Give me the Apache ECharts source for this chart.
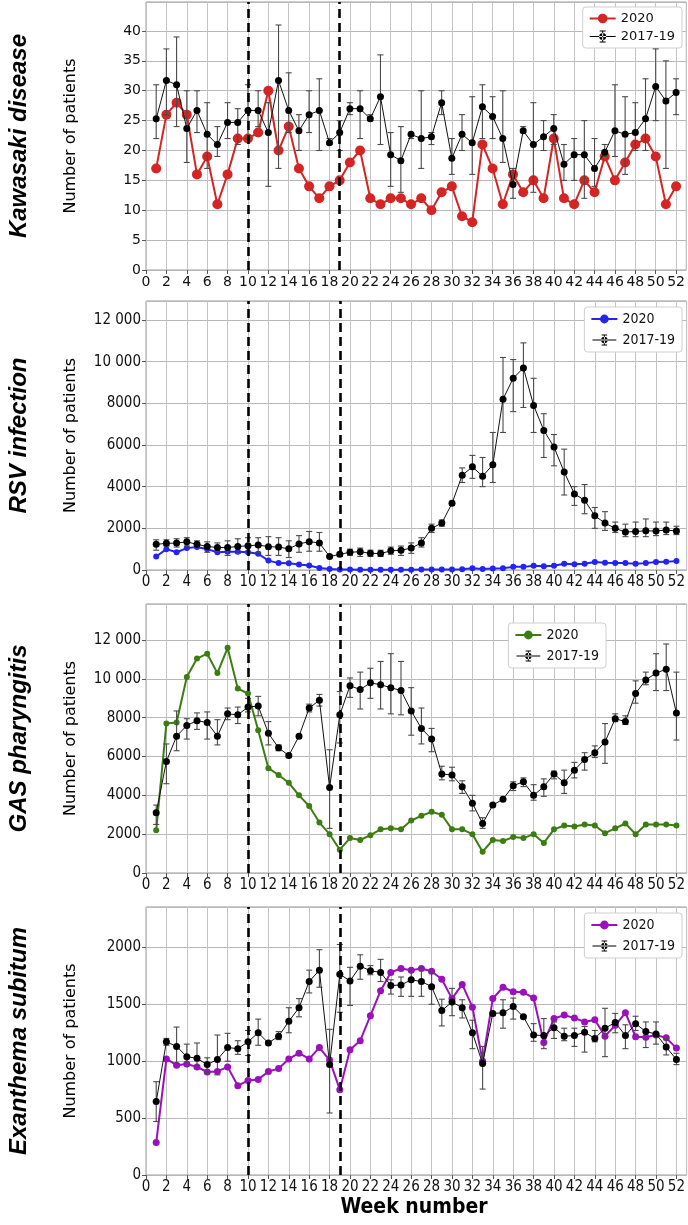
<!DOCTYPE html>
<html><head><meta charset="utf-8">
<script src="https://cdn.jsdelivr.net/npm/echarts@6/dist/echarts.min.js"></script>
<style>html,body{margin:0;padding:0;background:#fff}#c{width:688px;height:1225px}</style>
</head><body><div id="c"></div>
<script>
var weeks = [1,2,3,4,5,6,7,8,9,10,11,12,13,14,15,16,17,18,19,20,21,22,23,24,25,26,27,28,29,30,31,32,33,34,35,36,37,38,39,40,41,42,43,44,45,46,47,48,49,50,51,52];
var panelTitles = ['Kawasaki disease','RSV infection','GAS pharyngitis','Exanthema subitum'];
var seriesNames = ['2020','2017-19'];
var xTicks = [0,2,4,6,8,10,12,14,16,18,20,22,24,26,28,30,32,34,36,38,40,42,44,46,48,50,52];
var lockdownWeeks = [10,19];

// Kawasaki disease
var kd2020 = [17,26,28,26,16,19,11,16,22,22,23,30,20,24,17,14,12,14,15,18,20,12,11,12,12,11,12,10,13,14,9,8,21,17,11,16,13,15,12,22,12,11,15,13,19,15,18,21,22,19,11,14];
var kdMean = [25.3,31.7,31,23.7,26.7,22.7,21,24.7,24.7,26.7,26.7,23,31.7,26.7,23.3,26,26.7,21.3,23,27,27,25.3,29,19.3,18.3,22.7,22,22.3,28,18.7,22.7,21.3,27.3,25.7,22,14.3,23.3,21,22.3,23.7,17.7,19.3,19.3,17,19.7,23.3,22.7,23,25.3,30.7,28.3,29.7];
var kdLow = [22,26,24,18,23,17,19,22,21,22,24,14,17,23,20,23,20,21,20,26,22,25,21,14,13,22,17,21,26,16,20,16,22,22,18,12,23,13,20,21,15,15,12,14,19,19,16,20,20,25,17,26];
var kdHigh = [31,37,39,30,30,28,24,28,27,31,30,28,41,33,26,30,32,22,25,28,30,26,36,23,24,23,30,23,30,22,26,29,31,29,30,17,24,28,25,26,21,22,25,22,21,31,29,28,32,37,35,32];

// RSV infection
var rsv2020 = [650,1000,850,1050,1100,1000,850,880,870,850,780,450,330,320,260,220,100,50,20,20,10,10,10,10,10,10,20,20,20,20,40,80,50,70,80,150,150,200,180,200,300,280,300,380,350,330,330,300,330,380,390,430];
var rsvMean = [1230,1280,1290,1350,1230,1130,1080,1080,1130,1160,1200,1120,1100,1020,1250,1360,1300,650,750,850,880,800,790,920,950,1050,1300,2000,2250,3200,4550,4950,4500,5050,8200,9200,9700,7900,6700,5900,4700,3650,3350,2600,2250,2000,1820,1850,1880,1870,1920,1870];
var rsvLow = [950,1150,1100,1150,1100,850,900,700,800,850,850,700,700,600,850,900,900,600,650,700,650,650,650,750,700,800,1100,1800,2100,3100,4200,4400,4000,4200,6600,7600,7800,6600,5400,5000,3600,3100,2700,2000,1900,1800,1600,1600,1600,1650,1700,1700];
var rsvHigh = [1450,1450,1500,1550,1400,1350,1300,1400,1500,1550,1550,1600,1550,1400,1650,1850,1800,700,850,1000,1050,950,950,1100,1150,1300,1550,2200,2400,3300,4900,5500,5400,6600,10200,10100,10900,9200,7500,6500,5800,4000,4100,3000,2800,2300,2200,2300,2450,2300,2300,2100];

// GAS pharyngitis
var gas2020 = [2200,7700,7750,10100,11050,11300,10300,11600,9500,9250,7350,5400,5050,4650,4000,3450,2600,2000,1200,1800,1700,1950,2250,2300,2250,2700,2950,3150,3000,2250,2250,2000,1100,1700,1650,1850,1800,2000,1550,2250,2450,2400,2500,2450,2050,2300,2550,2000,2500,2500,2500,2450];
var gasMean = [3100,5750,7050,7600,7850,7750,7050,8200,8150,8550,8600,7200,6450,6050,7050,8500,8900,4400,8150,9650,9450,9800,9700,9550,9400,8350,7450,6900,5100,5050,4450,3600,2550,3500,3800,4500,4700,4000,4450,5100,4650,5300,5850,6200,6750,7950,7800,9250,9950,10300,10500,8250];
var gasLow = [2500,4600,6300,6900,7400,6900,6600,7900,7700,8300,8100,6600,6300,5950,6950,8300,8600,2300,6700,9050,8450,9000,8450,8200,8150,7100,6650,6250,4800,4750,4100,3200,2300,3450,3750,4250,4450,3750,3950,4850,4100,4900,5300,5950,5650,7800,7650,8750,9700,9400,9400,6850];
var gasHigh = [3500,6650,8350,7950,8250,8300,7900,8500,8550,9000,9100,7800,6600,6100,7100,8700,9200,6350,9350,10050,10350,10550,10900,11300,10900,9550,8500,7450,5500,5450,4750,4000,2850,3550,3850,4700,4900,4550,4850,5250,5300,5700,6200,6550,7700,8200,8100,9900,10350,11300,11800,10350];

// Exanthema subitum
var es2020 = [285,1020,965,975,950,905,910,950,785,830,840,910,935,1020,1070,1020,1120,1010,750,1100,1180,1400,1620,1780,1815,1800,1815,1790,1720,1550,1675,1475,1000,1550,1650,1610,1605,1555,1165,1375,1405,1380,1345,1365,1220,1315,1425,1215,1210,1230,1205,1115];
var esMean = [645,1170,1130,1040,1025,970,1015,1120,1110,1170,1250,1160,1220,1350,1470,1700,1800,970,1765,1705,1835,1795,1780,1665,1670,1715,1700,1655,1445,1520,1470,1250,980,1420,1425,1480,1390,1230,1225,1295,1220,1225,1255,1200,1290,1340,1225,1330,1260,1240,1125,1015];
var esLow = [470,1140,980,980,960,900,880,1000,1060,1050,1140,1150,1190,1250,1390,1600,1650,545,1430,1490,1720,1760,1700,1590,1570,1570,1570,1500,1310,1400,1380,1110,755,1400,1290,1370,1380,1175,1110,1200,1180,1130,1080,1170,1040,1250,1110,1270,1120,1150,1055,970];
var esHigh = [820,1200,1300,1150,1160,1030,1230,1245,1180,1270,1370,1170,1260,1470,1550,1800,1980,1280,2025,1825,1935,1840,1895,1715,1740,1790,1820,1780,1545,1640,1540,1360,1130,1425,1540,1555,1400,1330,1375,1345,1290,1290,1305,1270,1465,1420,1320,1395,1345,1345,1200,1070];

var panels = [
  {v2020: kd2020, mean: kdMean, lo: kdLow, hi: kdHigh, color: '#d42424', sym: 10, lw: 2, ymax: 44.85, step: 5, top: 2, h: 268, legTop: 7, legRight: 6, narrow: false},
  {v2020: rsv2020, mean: rsvMean, lo: rsvLow, hi: rsvHigh, color: '#2323f5', sym: 6, lw: 2, ymax: 12910, step: 2000, top: 301, h: 269, legTop: 307, legRight: 6, narrow: true},
  {v2020: gas2020, mean: gasMean, lo: gasLow, hi: gasHigh, color: '#3c7d12', sym: 6, lw: 2, ymax: 13860, step: 2000, top: 604, h: 269, legTop: 623, legRight: 82, narrow: true},
  {v2020: es2020, mean: esMean, lo: esLow, hi: esHigh, color: '#9a10bd', sym: 7, lw: 2, ymax: 2355, step: 500, top: 907, h: 268, legTop: 913, legRight: 6, narrow: true}
];

var NARROW = "'DejaVu Sans Condensed','Liberation Sans Narrow','DejaVu Sans',sans-serif";
var NORMAL = "'DejaVu Sans',sans-serif";
var ERR_ICON = 'path://M0 5.5H26V6.5H0Z M12.5 0H13.5V12H12.5Z M10 0H16V1H10Z M10 11H16V12H10Z M9.5 6A3.5 3.5 0 1 0 16.5 6A3.5 3.5 0 1 0 9.5 6Z';

function fmtY(v){
  if (v >= 10000) { var s = String(v); return s.slice(0, s.length-3) + ' ' + s.slice(s.length-3); }
  return String(v);
}

function errRender(params, api){
  var x = api.value(0), lo = api.value(1), hi = api.value(2);
  var a = api.coord([x, hi]), b = api.coord([x, lo]);
  var w = 3;
  var st = {stroke: '#4a4a4a', lineWidth: 1.1};
  return {type: 'group', children: [
    {type: 'line', shape: {x1: a[0], y1: a[1], x2: b[0], y2: b[1]}, style: st},
    {type: 'line', shape: {x1: a[0]-w, y1: a[1], x2: a[0]+w, y2: a[1]}, style: st},
    {type: 'line', shape: {x1: b[0]-w, y1: b[1], x2: b[0]+w, y2: b[1]}, style: st}
  ]};
}

var grids = [], xAxes = [], yAxes = [], series = [], legends = [], graphics = [];
panels.forEach(function(p, i){
  var ff = p.narrow ? NARROW : NORMAL;
  var fs = p.narrow ? 15 : 14;
  var n0 = 'p' + i + '|' + seriesNames[0];
  var n1 = 'p' + i + '|' + seriesNames[1];
  grids.push({left: 146, top: p.top, width: 541, height: p.h, show: true, borderColor: '#9a9a9a', borderWidth: 1, containLabel: false});
  xAxes.push({type: 'value', gridIndex: i, min: 0, max: 53, interval: 2,
    axisLine: {show: false}, axisTick: {show: true, length: 4, lineStyle: {color: '#555'}},
    splitLine: {show: true, lineStyle: {color: '#c4c4c4', width: 1}},
    axisLabel: {color: '#111', fontFamily: ff, fontSize: fs, margin: 5, showMaxLabel: false,
      formatter: function(v){ return xTicks.indexOf(v) >= 0 ? String(v) : ''; }}
  });
  yAxes.push({type: 'value', gridIndex: i, min: 0, max: p.ymax, interval: p.step,
    axisLine: {show: false}, axisTick: {show: true, length: 4, lineStyle: {color: '#555'}},
    splitLine: {show: true, lineStyle: {color: '#b8b8b8', width: 1}},
    axisLabel: {color: '#111', fontFamily: ff, fontSize: fs, margin: 5, showMaxLabel: false, formatter: fmtY}
  });
  var d2020 = weeks.map(function(w, k){ return [w, p.v2020[k]]; });
  var dMean = weeks.map(function(w, k){ return [w, p.mean[k]]; });
  var dErr = weeks.map(function(w, k){ return [w, p.lo[k], p.hi[k]]; });
  series.push({type: 'line', name: n0, xAxisIndex: i, yAxisIndex: i, data: d2020,
    symbol: 'circle', symbolSize: p.sym, showSymbol: true, z: 3,
    lineStyle: {color: p.color, width: p.lw}, itemStyle: {color: p.color},
    markLine: {silent: true, symbol: 'none', label: {show: false},
      lineStyle: {color: '#000', type: [9, 5], width: 2.6},
      data: lockdownWeeks.map(function(w){ return {xAxis: w}; })}
  });
  series.push({type: 'custom', name: 'err' + i, xAxisIndex: i, yAxisIndex: i, data: dErr,
    renderItem: errRender, encode: {x: 0, y: [1, 2]}, z: 4, silent: true, itemStyle: {color: '#000'}});
  series.push({type: 'line', name: n1, xAxisIndex: i, yAxisIndex: i, data: dMean,
    symbol: 'circle', symbolSize: 7, z: 5,
    lineStyle: {color: '#111', width: 1}, itemStyle: {color: '#000'}});
  legends.push({orient: 'vertical', right: p.legRight, top: p.legTop,
    backgroundColor: '#fff', borderColor: '#cfcfcf', borderWidth: 1, borderRadius: 3,
    padding: [5, 7, 5, 6], itemGap: p.narrow ? 7 : 5, itemWidth: 26, itemHeight: p.narrow ? 11 : 12,
    textStyle: {fontFamily: ff, fontSize: p.narrow ? 14 : 13, color: '#111'},
    formatter: function(name){ return name.split('|')[1]; },
    data: [{name: n0}, {name: n1, icon: ERR_ICON, itemStyle: {color: '#000'}}],
    selectedMode: false
  });
  var cy = p.top + p.h / 2;
  graphics.push({type: 'text', x: 19, y: cy, rotation: Math.PI/2,
    style: {text: panelTitles[i], fontFamily: "'Liberation Sans',Arial,sans-serif", fontWeight: 'bold', fontStyle: 'italic', fontSize: 24, fill: '#000', textAlign: 'center', textVerticalAlign: 'middle'}});
  graphics.push({type: 'text', x: 71, y: cy, rotation: Math.PI/2,
    style: {text: 'Number of patients', fontFamily: NORMAL, fontSize: 16, fill: '#000', textAlign: 'center', textVerticalAlign: 'middle'}});
});
graphics.push({type: 'text', x: 414, y: 1208,
  style: {text: 'Week number', fontFamily: NARROW, fontWeight: 'bold', fontSize: 21, fill: '#000', textAlign: 'center', textVerticalAlign: 'middle'}});

var chart = echarts.init(document.getElementById('c'), null, {renderer: 'canvas'});
chart.setOption({
  animation: false,
  backgroundColor: '#fff',
  grid: grids, xAxis: xAxes, yAxis: yAxes, series: series, legend: legends, graphic: graphics
});
</script></body></html>
